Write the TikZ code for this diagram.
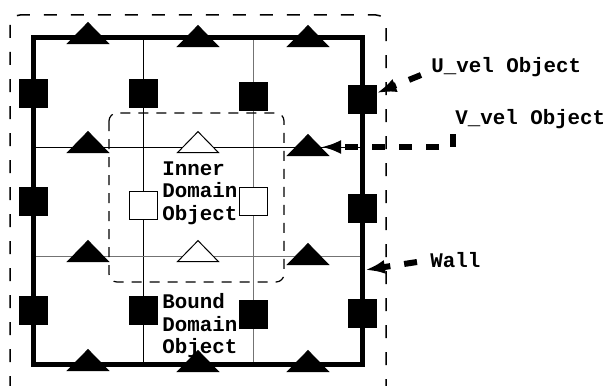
\documentclass[tikz,border=0pt]{standalone}
\usepackage{fontspec}
\setmonofont{Liberation Mono}
\usetikzlibrary{shapes.geometric,arrows.meta}

\tikzset{
  outerbox/.style={line width=0.75pt, dash pattern=on 6.5pt off 7pt, rounded corners=5pt},
  innerbox/.style={line width=0.6pt, dash pattern=on 5pt off 4pt, rounded corners=4pt},
  gridline/.style={line width=0.5pt},
  wall/.style={line width=2.5pt},
  uvel/.style={rectangle, draw=black, fill=black, line width=0.5pt, minimum size=14pt, inner sep=0pt},
  uvelin/.style={uvel, fill=white},
  vvel/.style={isosceles triangle, isosceles triangle stretches, shape border rotate=90,
    draw=black, fill=black, line width=0.5pt, minimum width=20.5pt, minimum height=10.5pt, inner sep=0pt},
  vvelin/.style={vvel, fill=white},
  objtext/.style={font=\ttfamily\bfseries\fontsize{10.4}{11.25}\selectfont, inner sep=0pt, align=left},
  pointer/.style={-{Latex[length=10pt,width=7pt]}, line width=3pt, dash pattern=on 6.5pt off 7pt}
}

\begin{document}
\begin{tikzpicture}[x=0.5pt, y=-0.5pt]
  \clip (0,0) rectangle (608,385);
  \draw[outerbox] (10,15) rectangle (386,430);

  \draw[gridline] (143,38) -- (143,364);
  \draw[gridline, black!55] (253,38) -- (253,364);
  \draw[gridline] (33,147) -- (362,147);
  \draw[gridline, black!55] (33,256) -- (362,256);
  \draw[wall] (33,38) rectangle (362,364);
  \draw[innerbox] (109,113) rectangle (284,282);

  \node[uvel] (u11) at (33,93) {};
  \node[uvel] (u12) at (143,93) {};
  \node[uvel] (u13) at (253,96) {};
  \node[uvel] (u14) at (362,99) {};
  \node[uvel] (u21) at (33,201) {};
  \node[uvelin] (u22) at (143,205) {};
  \node[uvelin] (u23) at (253,201) {};
  \node[uvel] (u24) at (362,208) {};
  \node[uvel] (u31) at (33,310) {};
  \node[uvel] (u32) at (143,310) {};
  \node[uvel] (u33) at (253,314) {};
  \node[uvel] (u34) at (362,313) {};

  \node[vvel] (v11) at (88,35) {};
  \node[vvel] (v12) at (198,38) {};
  \node[vvel] (v13) at (308,38) {};
  \node[vvel] (v21) at (88,144) {};
  \node[vvelin] (v22) at (198,144) {};
  \node[vvel] (v23) at (308,147) {};
  \node[vvel] (v31) at (88,253) {};
  \node[vvelin] (v32) at (198,253) {};
  \node[vvel] (v33) at (308,256) {};
  \node[vvel] (v41) at (88,362) {};
  \node[vvel] (v42) at (198,363) {};
  \node[vvel] (v43) at (308,363) {};

  \node[objtext, anchor=west] (inner) at (162,193) {Inner\\Domain\\Object};
  \node[objtext, anchor=west] (bound) at (162,326) {Bound\\Domain\\Object};
  \node[objtext, anchor=base west] (ulab) at (431,73) {U\_vel Object};
  \node[objtext, anchor=base west] (vlab) at (455,124) {V\_vel Object};
  \node[objtext, anchor=base west] (wlab) at (430,267) {Wall};

  \coordinate (ustart) at (421,75);
  \coordinate (vstart) at (453,134);
  \coordinate (wstart) at (417,262);
  \coordinate (wallhit) at (365,270);
  \draw[pointer] (ustart) -- (u14);
  \draw[pointer] (vstart) |- (v23);
  \draw[pointer] (wstart) -- (wallhit);
\end{tikzpicture}
\end{document}
